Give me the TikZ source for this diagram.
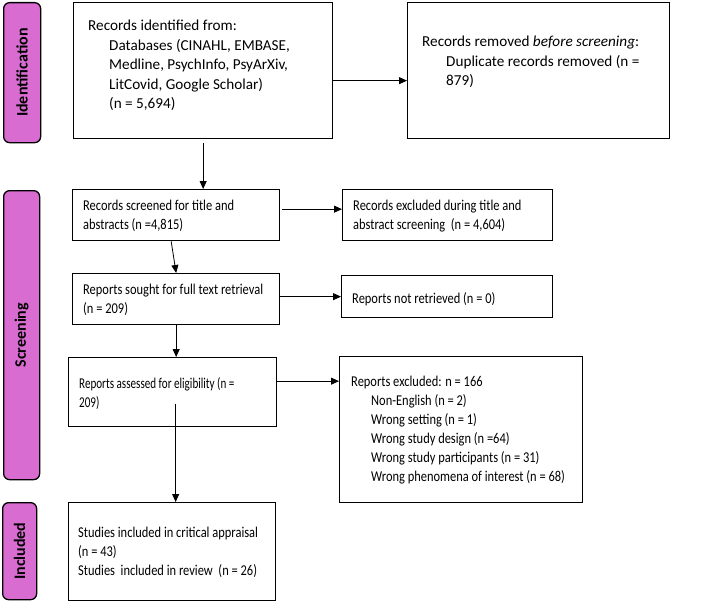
\documentclass[tikz,border=0pt]{standalone}
\usepackage{fontspec}
\setmainfont{Carlito}[FakeStretch=0.83]
\newfontfamily\plainfont{Carlito}
\newfontfamily\narrowfont{Carlito}[FakeStretch=0.74]
\usetikzlibrary{arrows.meta,calc}
\definecolor{phase}{RGB}{216,108,208}
\begin{document}
\begin{tikzpicture}[x=1pt,y=-1pt,
  box/.style={draw, line width=1.3pt, inner sep=0pt, anchor=north west},
  txt/.style={anchor=north west, inner sep=0pt, align=left, font=\fontsize{15}{19}\selectfont},
  txtwide/.style={txt, font=\plainfont\fontsize{15.2}{19.5}\selectfont},
  txtnarrow/.style={txt, font=\narrowfont\fontsize{15}{19}\selectfont},
  phasebox/.style={draw, line width=1.3pt, fill=phase, rounded corners=6pt, inner sep=0pt, anchor=north west},
  phaselabel/.style={rotate=90, inner sep=0pt, font=\plainfont\bfseries\fontsize{16}{18}\selectfont},
  arr/.style={-{Triangle[length=8pt,width=7pt]}, line width=0.8pt}]
\useasboundingbox (0,0) rectangle (710,602);

% phase labels
\node[phasebox, minimum width=37pt, minimum height=140pt] (p1) at (3,2) {};
\node[phaselabel] (l1) at (p1.center) {Identification};
\node[phasebox, minimum width=36pt, minimum height=289pt] (p2) at (3,190) {};
\node[phaselabel] (l2) at (p2.center) {Screening};
\node[phasebox, minimum width=34pt, minimum height=97pt] (p3) at (2,502) {};
\node[phaselabel] (l3) at (p3.center) {Included};

% boxes
\node[box, minimum width=259pt, minimum height=136pt] (b1) at (73,2) {};
\node[box, minimum width=262pt, minimum height=136pt] (b2) at (407,2) {};
\node[box, minimum width=207pt, minimum height=51pt] (b3) at (72,189) {};
\node[box, minimum width=210pt, minimum height=51pt] (b4) at (342,189) {};
\node[box, minimum width=207pt, minimum height=51pt] (b5) at (72,273) {};
\node[box, minimum width=211pt, minimum height=42pt] (b6) at (341,275) {};
\node[box, minimum width=208pt, minimum height=69pt] (b7) at (68,357) {};
\node[box, minimum width=243pt, minimum height=146pt] (b8) at (339,356) {};
\node[box, minimum width=207pt, minimum height=98pt] (b9) at (68,502) {};

% texts
\node[txtwide] (t1) at (88,20) {Records identified from:\\
  \hspace*{21pt}Databases (CINAHL, EMBASE,\\
  \hspace*{21pt}Medline, PsychInfo, PsyArXiv,\\
  \hspace*{21pt}LitCovid, Google Scholar)\\
  \hspace*{21pt}(n = 5,694)};
\node[txtwide] (t2) at (422,36) {Records removed \textit{before screening}:\\
  \hspace*{24pt}Duplicate records removed (n =\\
  \hspace*{24pt}879)};
\node[txt] (t3) at (83,200) {Records screened for title and\\ abstracts (n =4,815)};
\node[txt] (t4) at (353,200) {Records excluded during title and\\ abstract screening\ \ (n = 4,604)};
\node[txt] (t5) at (83,284) {Reports sought for full text retrieval\\ (n = 209)};
\node[txt] (t6) at (352,292) {Reports not retrieved (n = 0)};
\node[txtnarrow] (t7) at (79,377) {Reports assessed for eligibility (n =\\ 209)};
\node[txt] (t8) at (351,376) {Reports excluded: n = 166\\
  \hspace*{20pt}Non-English (n = 2)\\
  \hspace*{20pt}Wrong setting (n = 1)\\
  \hspace*{20pt}Wrong study design (n =64)\\
  \hspace*{20pt}Wrong study participants (n = 31)\\
  \hspace*{20pt}Wrong phenomena of interest (n = 68)};
\node[txt] (t9) at (78,527) {Studies included in critical appraisal\\ (n = 43)\\ Studies\ \ included in review\ \ (n = 26)};

% connectors
\draw[arr] ([yshift=-10pt]b1.east) -- ([yshift=-10pt]b2.west);
\draw[arr] ([yshift=-4pt]b1.south) -- (b1.south |- b3.north);
\draw[arr] ([shift={(2pt,6pt)}]b3.east) -- ([yshift=6pt]b4.west);
\draw[arr] ([xshift=-5pt]b3.south) -- (b5.north);
\draw[arr] (b5.east |- b6.west) -- (b6.west);
\draw[arr] (b5.south) -- (b5.south |- b7.north);
\draw[arr] ([yshift=11pt]b7.east) -- ([yshift=11pt]b7.east -| b8.west);
\coordinate (s79) at ([shift={(3pt,-11.5pt)}]b7.center);
\draw[arr] (s79) -- (s79 |- b9.north);
\end{tikzpicture}
\end{document}
